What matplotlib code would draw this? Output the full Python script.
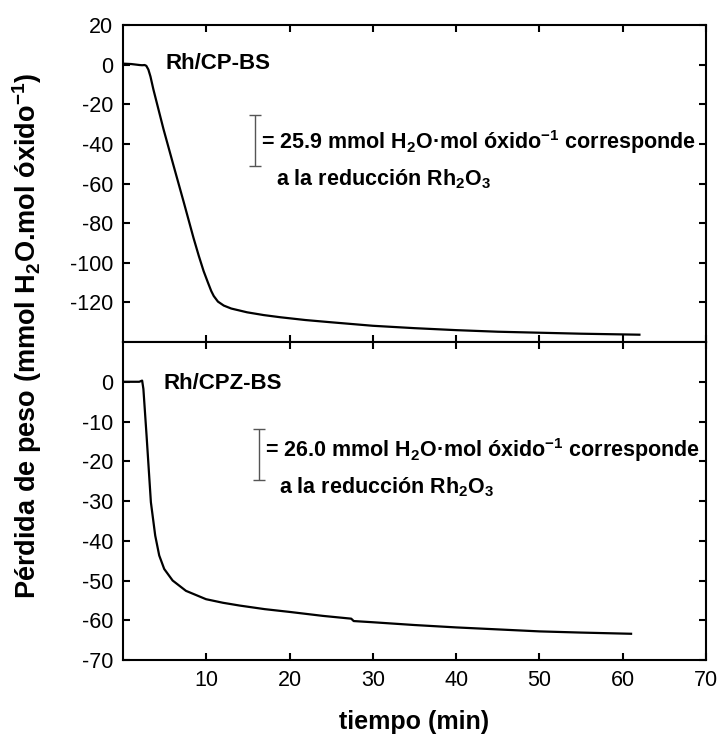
import matplotlib
matplotlib.use('Agg')
import matplotlib.pyplot as plt

plt.rcParams['font.family'] = ['Liberation Sans', 'DejaVu Sans']
plt.rcParams['mathtext.fontset'] = 'custom'
plt.rcParams['mathtext.rm'] = 'Liberation Sans'
plt.rcParams['mathtext.bf'] = 'Liberation Sans:bold'
plt.rcParams['axes.unicode_minus'] = False

# Rh/CP-BS
t_cp = [0, 1.0, 2.0, 2.3, 2.6, 2.8, 3.05, 3.3, 3.65, 4.86, 6.06, 7.3, 8.47, 9.1, 9.68,
        10.2, 10.6, 10.9, 11.4, 12.1, 13, 14.9, 16.9, 18.9, 21.9, 24.9, 30, 35, 40, 45, 50, 55, 62]
w_cp = [0.5, 0.3, -0.2, -0.3, -0.2, -0.6, -2.5, -6, -12.5, -32.5, -50.8, -69.5, -87.5, -96.5, -104.2,
        -110, -114.3, -116.8, -119.6, -121.6, -123.1, -125, -126.4, -127.5, -128.9, -130, -131.8,
        -133.0, -134.0, -134.8, -135.3, -135.8, -136.3]

# Rh/CPZ-BS
t_cpz = [0, 1.95, 2.3, 2.45, 2.83, 3.35, 3.87, 4.35, 4.95, 5.96, 7.56, 9.97, 12, 14,
         17, 20, 24, 27.4, 27.7, 30, 35, 40, 45, 50, 55, 61]
w_cpz = [0, 0, 0.3, -1.8, -13.5, -30.3, -38.7, -43.7, -47.1, -50.0, -52.6, -54.7, -55.6, -56.3,
         -57.2, -57.9, -58.9, -59.6, -60.2, -60.5, -61.2, -61.8, -62.3, -62.8, -63.1, -63.4]

# escalas de referencia
bar_cp = (-25.5, -51.4)
bar_cpz = (-11.8, -24.7)

fig = plt.figure(figsize=(7.26, 7.40), dpi=100)
ax1 = fig.add_axes([0.1694, 0.5378, 0.8031, 0.4284])
ax2 = fig.add_axes([0.1694, 0.1081, 0.8031, 0.4297])

for ax in (ax1, ax2):
    ax.set_xlim(0, 70)
    ax.set_xticks(range(10, 71, 10))
    ax.tick_params(direction='in', top=True, right=True, length=5, width=1.5,
                   labelsize=15.5, pad=7)
    for s in ax.spines.values():
        s.set_linewidth(1.5)

ax1.plot(t_cp, w_cp, color='black', lw=1.6)
ax1.set_ylim(-140, 20)
ax1.set_yticks(range(-120, 21, 20))
ax1.tick_params(labelbottom=False)

ax2.plot(t_cpz, w_cpz, color='black', lw=1.6)
ax2.set_ylim(-70, 10)
ax2.set_yticks(range(-70, 1, 10))

def escala(ax, x, lims):
    mid = (lims[0] + lims[1]) / 2
    ax.errorbar([x], [mid], yerr=[abs(lims[0] - lims[1]) / 2], color='#555555',
                lw=1, capsize=4.5, capthick=1)

escala(ax1, 15.8, bar_cp)
escala(ax2, 16.3, bar_cpz)

ax1.text(5.1, 0.5, 'Rh/CP-BS', fontsize=16, fontweight='bold', va='center')
ax2.text(4.9, -0.5, 'Rh/CPZ-BS', fontsize=16, fontweight='bold', va='center')

ax1.text(16.6, -39, r'= 25.9 mmol H$_\mathbf{2}$O·mol óxido$^\mathbf{-1}$ corresponde',
         fontsize=15.5, fontweight='bold', va='center')
ax1.text(18.4, -58, r'a la reducción Rh$_\mathbf{2}$O$_\mathbf{3}$',
         fontsize=15.5, fontweight='bold', va='center')
ax2.text(17.0, -17.2, r'= 26.0 mmol H$_\mathbf{2}$O·mol óxido$^\mathbf{-1}$ corresponde',
         fontsize=15.5, fontweight='bold', va='center')
ax2.text(18.7, -26.4, r'a la reducción Rh$_\mathbf{2}$O$_\mathbf{3}$',
         fontsize=15.5, fontweight='bold', va='center')

ax2.set_xlabel('tiempo (min)', fontsize=18, fontweight='bold', labelpad=14)
fig.text(0.038, 0.546, r'Pérdida de peso (mmol H$_\mathbf{2}$O.mol óxido$^\mathbf{-1}$)',
         rotation=90, fontsize=19.5, fontweight='bold', ha='center', va='center')

fig.savefig('out.png', dpi=100)
